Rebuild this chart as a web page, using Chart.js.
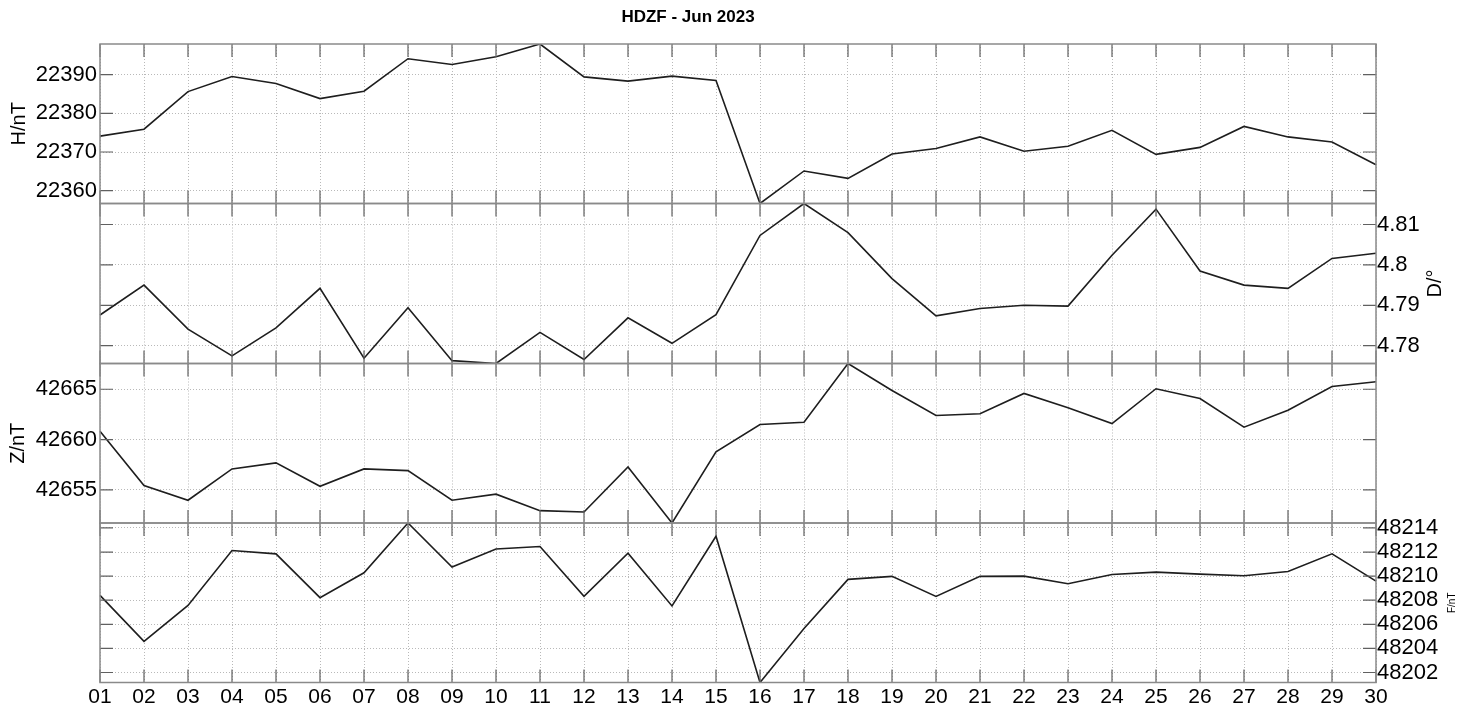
<!DOCTYPE html>
<html>
<head>
<meta charset="utf-8">
<title>HDZF - Jun 2023</title>
<script src="https://cdn.jsdelivr.net/npm/chart.js@4.4.0/dist/chart.umd.min.js"></script>
<style>
  html, body { margin: 0; padding: 0; background: #fff; }
  #wrap { position: relative; width: 1473px; height: 713px; }
  #wrap canvas { position: absolute; left: 0; top: 0; }
</style>
</head>
<body>
<div id="wrap">
  <canvas id="chart-h" width="1473" height="713"></canvas>
  <canvas id="chart-d" width="1473" height="713"></canvas>
  <canvas id="chart-z" width="1473" height="713"></canvas>
  <canvas id="chart-f" width="1473" height="713"></canvas>
</div>
<script>
// dias del mes
const days = ['01','02','03','04','05','06','07','08','09','10','11','12','13','14','15',
              '16','17','18','19','20','21','22','23','24','25','26','27','28','29','30'];

// H / nT
const hValues = [22374.1, 22375.9, 22385.6, 22389.5, 22387.7, 22383.8, 22385.7, 22394.1, 22392.6, 22394.6,
                 22397.9, 22389.4, 22388.3, 22389.6, 22388.5, 22356.7, 22365.1, 22363.2, 22369.5, 22370.9,
                 22373.9, 22370.2, 22371.5, 22375.6, 22369.4, 22371.2, 22376.6, 22373.9, 22372.6, 22366.7];
// D / grados
const dValues = [4.7876, 4.7950, 4.7841, 4.7775, 4.7844, 4.7942, 4.7769, 4.7894, 4.7763, 4.7756,
                 4.7833, 4.7766, 4.7869, 4.7806, 4.7877, 4.8073, 4.8152, 4.8080, 4.7966, 4.7874,
                 4.7892, 4.7900, 4.7898, 4.8024, 4.8138, 4.7985, 4.7950, 4.7942, 4.8016, 4.8029];
// Z / nT
const zValues = [42660.83, 42655.42, 42653.96, 42657.08, 42657.68, 42655.35, 42657.08, 42656.91, 42653.96, 42654.57,
                 42652.93, 42652.80, 42657.28, 42651.70, 42658.77, 42661.49, 42661.72, 42667.56, 42664.88, 42662.39,
                 42662.56, 42664.58, 42663.16, 42661.59, 42665.05, 42664.08, 42661.23, 42662.92, 42665.28, 42665.75];
// F / nT
const fValues = [48208.40, 48204.59, 48207.57, 48212.13, 48211.85, 48208.21, 48210.28, 48214.41, 48210.75, 48212.25,
                 48212.46, 48208.32, 48211.90, 48207.52, 48213.31, 48201.17, 48205.65, 48209.73, 48209.98, 48208.32,
                 48209.98, 48210.00, 48209.37, 48210.14, 48210.33, 48210.17, 48210.03, 48210.39, 48211.85, 48209.59];

// marcas del eje y
const hTicks = [22360, 22370, 22380, 22390];
const dTicks = [4.78, 4.79, 4.8, 4.81];
const zTicks = [42655, 42660, 42665];
const fTicks = [48202, 48204, 48206, 48208, 48210, 48212, 48214];

Chart.defaults.font.family = "'Liberation Sans', Arial, sans-serif";
Chart.defaults.color = '#000';

// marco y marcas hacia dentro
const framePlugin = {
  id: 'frame',
  afterDraw(chart) {
    const ctx = chart.ctx, a = chart.chartArea, sx = chart.scales.x, sy = chart.scales.y;
    const tick = 13;
    ctx.save();
    ctx.strokeStyle = '#606060';
    ctx.lineWidth = 1.2;
    ctx.beginPath();
    sx.ticks.forEach(function(t, i) {
      const x = sx.getPixelForTick(i);
      ctx.moveTo(x, a.top); ctx.lineTo(x, a.top + tick);
      ctx.moveTo(x, a.bottom); ctx.lineTo(x, a.bottom - tick);
    });
    sy.ticks.forEach(function(t) {
      const y = sy.getPixelForValue(t.value);
      ctx.moveTo(a.left, y); ctx.lineTo(a.left + tick, y);
      ctx.moveTo(a.right, y); ctx.lineTo(a.right - tick, y);
    });
    ctx.stroke();
    ctx.strokeStyle = '#8a8a8a';
    ctx.lineWidth = 1.5;
    ctx.strokeRect(a.left, a.top, a.right - a.left, a.bottom - a.top);
    ctx.restore();
  }
};

// etiqueta girada del eje
const labelPlugin = {
  id: 'panelLabel',
  afterDraw(chart, args, opts) {
    if (!opts.text) return;
    const a = chart.chartArea, ctx = chart.ctx;
    ctx.save();
    ctx.translate(opts.x, (a.top + a.bottom) / 2);
    ctx.rotate(-Math.PI / 2);
    ctx.font = opts.size + "px 'Liberation Sans', Arial, sans-serif";
    ctx.fillStyle = '#000';
    ctx.textAlign = 'center';
    ctx.textBaseline = 'middle';
    ctx.fillText(opts.text, 0, 0);
    ctx.restore();
  }
};

function fmt(v) {
  return String(Number(v.toFixed(4)));
}

function makePanel(id, values, ticks, side, top, bottom, showX, label, labelX, labelSize, title) {
  const ctx = document.getElementById(id).getContext('2d');
  const left = side === 'left';
  return new Chart(ctx, {
    type: 'line',
    data: {
      labels: days,
      datasets: [{
        data: values,
        borderColor: '#1e1e1e',
        borderWidth: 1.6,
        pointRadius: 0,
        tension: 0,
        fill: false
      }]
    },
    options: {
      responsive: false,
      animation: false,
      layout: {
        padding: {
          left: left ? 0 : 100,
          right: left ? 97 : 0,
          top: title ? 0 : top,
          bottom: showX ? 713 - bottom - 30 : 713 - bottom
        }
      },
      plugins: {
        legend: { display: false },
        tooltip: { enabled: false },
        title: {
          display: !!title,
          text: title || '',
          font: { size: 17, weight: 'bold' },
          color: '#000',
          padding: { top: 7, bottom: 16.6 }
        },
        panelLabel: { text: label, x: labelX, size: labelSize }
      },
      scales: {
        x: {
          grid: { color: '#b9b9b9', lineWidth: 1, drawTicks: false },
          border: { display: false, dash: [1, 2] },
          ticks: { display: showX, autoSkip: false, maxRotation: 0, font: { size: 21 }, padding: 2, color: '#000' },
          afterFit: function(s) { s.height = showX ? 30 : 0; }
        },
        y: {
          type: 'linear',
          position: side,
          min: Math.min(...values),
          max: Math.max(...values),
          afterBuildTicks: function(s) { s.ticks = ticks.map(function(v) { return { value: v }; }); },
          grid: { color: '#b9b9b9', lineWidth: 1, drawTicks: false },
          border: { display: false, dash: [1, 2] },
          ticks: { callback: fmt, autoSkip: false, font: { size: 22 }, padding: left ? 3 : 1, color: '#000' },
          afterFit: function(s) { s.width = left ? 100 : 97; }
        }
      }
    },
    plugins: [framePlugin, labelPlugin]
  });
}

document.addEventListener('DOMContentLoaded', function() {
  makePanel('chart-h', hValues, hTicks, 'left', 44, 203.5, false, 'H/nT', 19, 20, 'HDZF - Jun 2023');
  makePanel('chart-d', dValues, dTicks, 'right', 203.5, 363.5, false, 'D/°', 1435, 20);
  makePanel('chart-z', zValues, zTicks, 'left', 363.5, 523, false, 'Z/nT', 18, 20);
  makePanel('chart-f', fValues, fTicks, 'right', 523, 682.5, true, 'F/nT', 1452, 10);
});
</script>
</body>
</html>
